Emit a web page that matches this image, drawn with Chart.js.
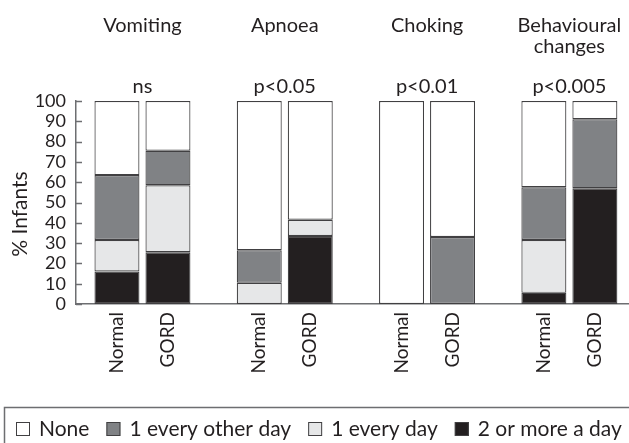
<!DOCTYPE html>
<html>
<head>
<meta charset="utf-8">
<script src="https://cdn.jsdelivr.net/npm/chart.js@4"></script>
<style>
  html, body { margin: 0; padding: 0; background: #ffffff; }
  #wrap { width: 629px; height: 443px; position: relative; }
</style>
</head>
<body>
<div id="wrap"><canvas id="c" width="629" height="443"></canvas></div>
<script>
// ---- data ----
const categories = ['Vomiting', 'Apnoea', 'Choking', ['Behavioural', 'changes']];
const pValues = ['ns', 'p<0.05', 'p<0.01', 'p<0.005'];
const groups = ['Normal', 'GORD'];
const seriesNames = ['None', '1 every other day', '1 every day', '2 or more a day'];

// values per category: Vomiting, Apnoea, Choking, Behavioural changes
const normalTwoPlus   = [16, 0, 0, 5.5];
const normalEveryDay  = [15.5, 10.5, 0, 26];
const normalOtherDay  = [32, 16, 0, 26];
const normalNone      = [36.5, 73.5, 100, 42.5];

const gordTwoPlus     = [25.5, 33.5, 0, 57];
const gordEveryDay    = [33, 8, 0, 0];
const gordOtherDay    = [17, 0, 33, 34];
const gordNone        = [24.5, 58.5, 67, 9];

const yTickMin = 0, yTickMax = 100, yTickStep = 10;

// ---- styles ----
const TEXT = '#231f20';
const AXIS = '#6d6e71';
const EDGE = '#414042';
const FONT = 'Lato, "Open Sans", sans-serif';
const colors = { 'None': '#ffffff', '1 every other day': '#808285', '1 every day': '#e6e7e8', '2 or more a day': '#231f20' };

const stackData = {
  Normal: { '2 or more a day': normalTwoPlus, '1 every day': normalEveryDay, '1 every other day': normalOtherDay, 'None': normalNone },
  GORD:   { '2 or more a day': gordTwoPlus,   '1 every day': gordEveryDay,   '1 every other day': gordOtherDay,   'None': gordNone }
};

const datasets = [];
groups.forEach(g => {
  // bottom to top
  seriesNames.slice().reverse().forEach(s => {
    datasets.push({
      label: s,
      stack: g,
      data: stackData[g][s].map((v, i) => ({ x: i, y: v })),
      backgroundColor: colors[s],
      borderColor: EDGE,
      borderWidth: 1.2,
      borderSkipped: false,
      categoryPercentage: 0.7168,
      barPercentage: 0.882
    });
  });
});

const annotate = {
  id: 'annotate',
  afterDraw(chart) {
    const ctx = chart.ctx;
    const xs = chart.scales.x, ys = chart.scales.y;
    ctx.save();
    ctx.fillStyle = TEXT;
    // category titles and p values
    ctx.font = '20px ' + FONT;
    ctx.textAlign = 'center';
    ctx.textBaseline = 'alphabetic';
    categories.forEach((c, i) => {
      const x = xs.getPixelForValue(i);
      const lines = Array.isArray(c) ? c : [c];
      lines.forEach((l, j) => ctx.fillText(l, x, 32 + j * 20.5));
      ctx.fillText(pValues[i], x, 93);
    });
    // group labels under each bar
    ctx.font = '19px ' + FONT;
    groups.forEach((g, gi) => {
      const meta = chart.getDatasetMeta(gi * seriesNames.length);
      meta.data.forEach(bar => {
        ctx.save();
        ctx.translate(bar.x, ys.bottom + 8);
        ctx.rotate(-Math.PI / 2);
        ctx.textAlign = 'right';
        ctx.textBaseline = 'middle';
        ctx.fillText(g, 0, 0);
        ctx.restore();
      });
    });
    // y axis title
    ctx.save();
    ctx.font = '21px ' + FONT;
    ctx.translate(20.5, 214);
    ctx.rotate(-Math.PI / 2);
    ctx.textAlign = 'center';
    ctx.textBaseline = 'middle';
    ctx.fillText('% Infants', 0, 0);
    ctx.restore();
    // inward ticks on y axis
    ctx.strokeStyle = AXIS;
    ctx.lineWidth = 1.5;
    ys.ticks.forEach(t => {
      const y = Math.round(ys.getPixelForValue(t.value)) + 0.5;
      ctx.beginPath();
      ctx.moveTo(ys.right, y);
      ctx.lineTo(ys.right + 6, y);
      ctx.stroke();
    });
    // legend frame
    const top = 407.5;
    ctx.beginPath();
    ctx.moveTo(4.5, chart.height + 2);
    ctx.lineTo(4.5, top);
    ctx.lineTo(chart.width + 2, top);
    ctx.stroke();
    // legend items
    ctx.font = '21px ' + FONT;
    ctx.textAlign = 'left';
    ctx.textBaseline = 'alphabetic';
    let x = 16;
    seriesNames.forEach(s => {
      ctx.fillStyle = colors[s];
      ctx.fillRect(x, 422, 14, 14);
      ctx.strokeStyle = EDGE;
      ctx.lineWidth = 1;
      ctx.strokeRect(x + 0.5, 422.5, 13, 13);
      ctx.fillStyle = TEXT;
      ctx.fillText(s, x + 23, 436);
      x += 23 + ctx.measureText(s).width + 17;
    });
    ctx.restore();
  }
};

new Chart(document.getElementById('c'), {
  type: 'bar',
  data: { datasets },
  plugins: [annotate],
  options: {
    responsive: false,
    devicePixelRatio: 1,
    animation: false,
    events: [],
    layout: { padding: { top: 101, left: 0, right: 0, bottom: 69 } },
    plugins: { legend: { display: false }, tooltip: { enabled: false }, title: { display: false } },
    scales: {
      x: {
        type: 'linear',
        stacked: true,
        offset: false,
        min: -0.467,
        max: 3.419,
        afterBuildTicks(scale) { scale.ticks = categories.map((c, i) => ({ value: i })); },
        afterFit(scale) { scale.height = 70; },
        ticks: { display: false },
        grid: { display: false, drawTicks: false, offset: false },
        border: { display: true, color: AXIS, width: 1.5 }
      },
      y: {
        stacked: true,
        min: yTickMin,
        max: yTickMax,
        afterFit(scale) { scale.width = 76; },
        afterBuildTicks(scale) {
          const t = [];
          for (let v = yTickMin; v <= yTickMax; v += yTickStep) t.push({ value: v });
          scale.ticks = t;
        },
        ticks: { stepSize: yTickStep, autoSkip: false, padding: 10, color: TEXT, font: { family: FONT, size: 18 } },
        grid: { display: false, drawTicks: false },
        border: { display: true, color: AXIS, width: 1.5 }
      }
    }
  }
});
</script>
</body>
</html>
